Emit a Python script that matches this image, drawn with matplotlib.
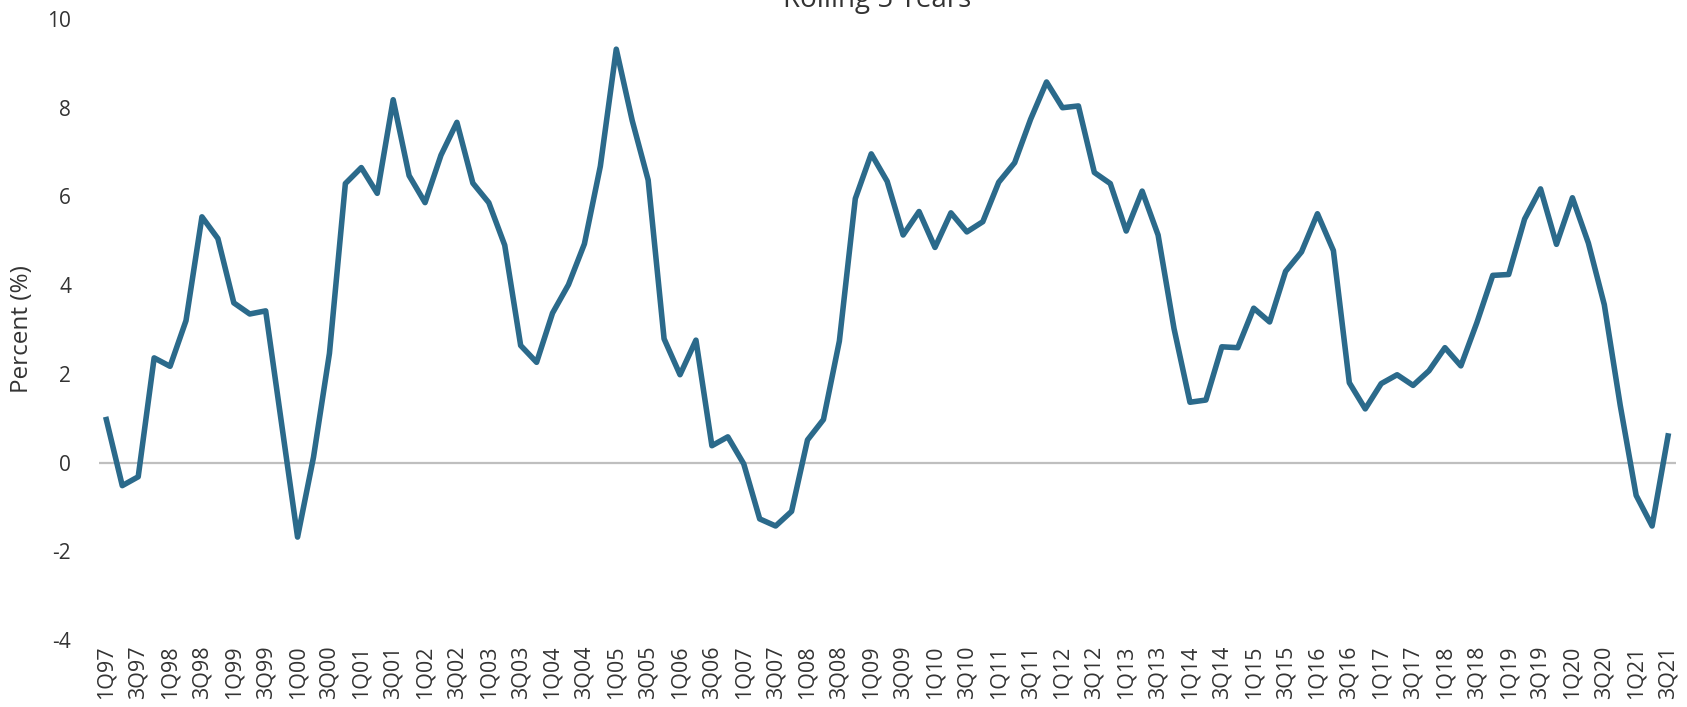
import matplotlib
matplotlib.use("Agg")
import matplotlib.pyplot as plt

plt.rcParams['font.family'] = ['Open Sans', 'DejaVu Sans']

title = "Rolling 5 Years"
ylabel = "Percent (%)"

quarters = [f"{q}Q{y % 100:02d}" for y in range(1997, 2022) for q in (1, 2, 3, 4)][:99]

values = [
    0.97, -0.52, -0.32, 2.36, 2.17, 3.20, 5.54, 5.05, 3.60, 3.35,
    3.42, 0.87, -1.68, 0.12, 2.46, 6.29, 6.65, 6.07, 8.18, 6.47,
    5.86, 6.93, 7.67, 6.30, 5.86, 4.90, 2.64, 2.26, 3.37, 4.01,
    4.93, 6.68, 9.32, 7.71, 6.37, 2.79, 1.98, 2.76, 0.38, 0.58,
    -0.03, -1.27, -1.43, -1.10, 0.51, 0.97, 2.74, 5.95, 6.96, 6.34,
    5.13, 5.66, 4.85, 5.63, 5.20, 5.43, 6.32, 6.76, 7.74, 8.58,
    8.00, 8.04, 6.54, 6.29, 5.22, 6.12, 5.13, 3.02, 1.36, 1.41,
    2.61, 2.59, 3.48, 3.17, 4.31, 4.75, 5.61, 4.78, 1.80, 1.21,
    1.78, 1.98, 1.74, 2.07, 2.59, 2.18, 3.15, 4.22, 4.24, 5.49,
    6.17, 4.92, 5.97, 4.95, 3.56, 1.29, -0.74, -1.43, 0.60,
]

yticks = [-4, -2, 0, 2, 4, 6, 8, 10]

fig = plt.figure(figsize=(16.87, 7.07), dpi=100)
ax = fig.add_axes([99/1687, 1 - 640/707, (1676 - 99)/1687, (640 - 19)/707])

x = list(range(len(values)))
ax.axhline(0, color='#bfbfbf', lw=1.6, zorder=1)
ax.plot(x, values, color='#2b6a8b', lw=4.0, solid_joinstyle='round', zorder=2)

ax.set_xlim(-0.46, 98.5)
ax.set_ylim(-4, 10)
ax.set_yticks(yticks)
ax.set_yticklabels([str(t) for t in yticks])
ax.set_xticks(x[::2])
ax.set_xticklabels(quarters[::2], rotation=90)

for s in ax.spines.values():
    s.set_visible(False)
ax.tick_params(axis='both', length=0, colors='#333333')
ax.tick_params(axis='y', labelsize=15, pad=20)
ax.tick_params(axis='x', labelsize=15.5, pad=4)
for lbl in ax.get_xticklabels():
    lbl.set_va('top')

ax.set_ylabel(ylabel, fontsize=17.5, color='#333333')
ax.yaxis.set_label_coords(-(99 - 34) / 1577, 0.5)

fig.text(877/1687, 1 - 7/707, title, ha='center', va='baseline', fontsize=20, color='#333333')

fig.savefig("out.png", dpi=100)
